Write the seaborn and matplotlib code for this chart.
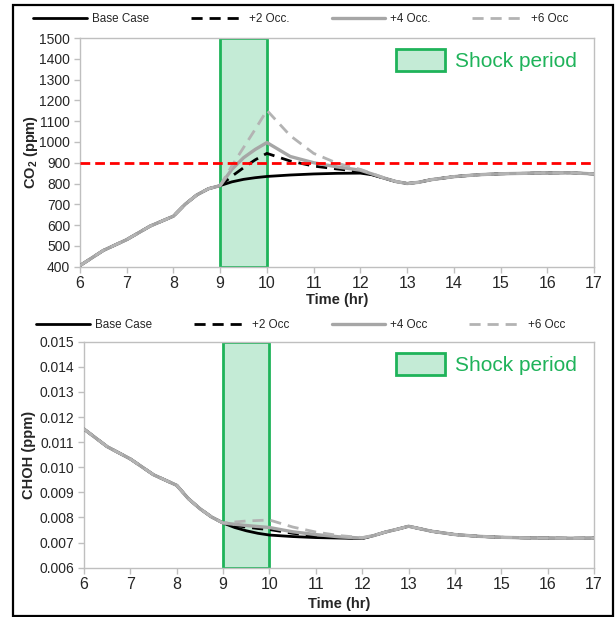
import numpy as np
import pandas as pd
import seaborn as sns
import matplotlib
matplotlib.use("Agg")
import matplotlib.pyplot as plt
from matplotlib.lines import Line2D
from matplotlib.patches import Patch, Rectangle

# ---------------- data ----------------
time_hr = [6, 6.5, 7, 7.5, 8, 8.25, 8.5, 8.75, 9, 9.25, 9.5, 9.75, 10, 10.5, 11, 11.5,
           12, 12.25, 12.5, 12.75, 13, 13.25, 13.5, 14, 14.5, 15, 15.5, 16, 16.5, 17]

co2_base = [405, 478, 530, 595, 643, 700, 745, 775, 790, 808, 820, 828, 834, 841, 846, 849,
            850, 842, 826, 810, 800, 806, 818, 833, 842, 847, 849, 851, 852, 846]
co2_occ2 = [405, 478, 530, 595, 643, 700, 745, 775, 790, 835, 876, 914, 945, 908, 884, 870,
            858, 843, 826, 810, 800, 806, 818, 833, 842, 847, 849, 851, 852, 846]
co2_occ4 = [405, 478, 530, 595, 643, 700, 745, 775, 790, 868, 924, 964, 997, 930, 900, 880,
            864, 846, 827, 810, 800, 806, 818, 833, 842, 847, 849, 851, 852, 846]
co2_occ6 = [405, 478, 530, 595, 643, 700, 745, 775, 790, 885, 973, 1061, 1152, 1030, 945, 898,
            868, 848, 828, 811, 800, 806, 818, 833, 842, 847, 849, 851, 852, 846]

choh_base = [0.01152, 0.01082, 0.01033, 0.00970, 0.00928, 0.00875, 0.00835, 0.00802, 0.00778,
             0.00760, 0.00747, 0.00737, 0.00730, 0.00724, 0.00720, 0.00718, 0.00716, 0.00728,
             0.00742, 0.00753, 0.00765, 0.00755, 0.00745, 0.00732, 0.00725, 0.00721, 0.00719,
             0.00718, 0.00717, 0.00718]
choh_occ2 = [0.01152, 0.01082, 0.01033, 0.00970, 0.00928, 0.00875, 0.00835, 0.00802, 0.00778,
             0.00768, 0.00762, 0.00756, 0.00752, 0.00737, 0.00728, 0.00721, 0.00717, 0.00728,
             0.00742, 0.00753, 0.00765, 0.00755, 0.00745, 0.00732, 0.00725, 0.00721, 0.00719,
             0.00718, 0.00717, 0.00718]
choh_occ4 = [0.01152, 0.01082, 0.01033, 0.00970, 0.00928, 0.00875, 0.00835, 0.00802, 0.00778,
             0.00773, 0.00768, 0.00764, 0.00760, 0.00743, 0.00732, 0.00723, 0.00718, 0.00728,
             0.00742, 0.00753, 0.00765, 0.00755, 0.00745, 0.00732, 0.00725, 0.00721, 0.00719,
             0.00718, 0.00717, 0.00718]
choh_occ6 = [0.01152, 0.01082, 0.01033, 0.00970, 0.00928, 0.00875, 0.00835, 0.00802, 0.00778,
             0.00782, 0.00786, 0.00788, 0.00790, 0.00762, 0.00742, 0.00728, 0.00720, 0.00729,
             0.00742, 0.00753, 0.00765, 0.00755, 0.00745, 0.00732, 0.00725, 0.00721, 0.00719,
             0.00718, 0.00717, 0.00718]

co2_labels = ["Base Case", "+2 Occ.", "+4 Occ.", "+6 Occ"]
choh_labels = ["Base Case", "+2 Occ", "+4 Occ", "+6 Occ"]
co2_limit = 900
shock_start, shock_end = 9, 10

co2_ticks = list(range(400, 1501, 100))
choh_ticks = [0.006, 0.007, 0.008, 0.009, 0.010, 0.011, 0.012, 0.013, 0.014, 0.015]
x_ticks = list(range(6, 18))

# ---------------- style ----------------
sns.set_style("white")
plt.rcParams["font.family"] = ["Liberation Sans", "DejaVu Sans"]
plt.rcParams["mathtext.fontset"] = "custom"
plt.rcParams["mathtext.rm"] = "Liberation Sans"
plt.rcParams["mathtext.bf"] = "Liberation Sans:bold"

styles = [
    dict(color="black", lw=2.0, ls="-"),
    dict(color="black", lw=2.0, ls=(0, (4, 2.5))),
    dict(color="#a6a6a6", lw=2.4, ls="-"),
    dict(color="#b3b3b3", lw=2.0, ls=(0, (4, 2.5))),
]
GREEN = "#1fb35a"
FILL = "#c4ebd6"
SPINE = "#bfbfbf"

fig = plt.figure(figsize=(6.15, 6.17), dpi=100)
ax1 = fig.add_axes([0.130, 0.5678, 0.836, 0.3706])
ax2 = fig.add_axes([0.1366, 0.0799, 0.8294, 0.3663])

def draw(ax, series, labels, yticks, ylabel, fmt, leg_y, xlabelpad):
    ax.axvspan(shock_start, shock_end, facecolor=FILL, edgecolor=GREEN, lw=2, zorder=1)
    for vals, st in zip(series, styles):
        sns.lineplot(x=time_hr, y=vals, ax=ax, color=st["color"], linewidth=st["lw"],
                     linestyle=st["ls"], zorder=3)
    ax.set_xlim(6, 17)
    ax.set_ylim(yticks[0], yticks[-1])
    ax.set_xticks(x_ticks)
    ax.set_yticks(yticks)
    ax.set_yticklabels([fmt(v) for v in yticks], fontsize=10)
    ax.set_xticklabels([str(v) for v in x_ticks], fontsize=11.5)
    for s in ax.spines.values():
        s.set_visible(True)
        s.set_color(SPINE)
        s.set_linewidth(1.0)
    ax.tick_params(axis="both", which="both", direction="out", length=4, width=1,
                   color=SPINE, left=True, bottom=True, pad=3)
    ax.set_xlabel("Time (hr)", fontsize=10.5, fontweight="bold", labelpad=xlabelpad)
    ax.set_ylabel(ylabel, fontsize=10.5, fontweight="bold", labelpad=4)
    handles = [Line2D([0], [0], color=st["color"], lw=st["lw"], ls=st["ls"]) for st in styles]
    fig.legend(handles, labels, loc="center", bbox_to_anchor=(0.489, leg_y), ncol=4,
               frameon=False, fontsize=8.4, handlelength=4.6, handletextpad=0.4,
               columnspacing=3.6)
    shock = [Patch(facecolor=FILL, edgecolor=GREEN, lw=2)]
    ax.legend(shock, ["Shock period"], loc="upper right", frameon=False, fontsize=15,
              labelcolor=GREEN, handlelength=2.35, handleheight=1.25, handletextpad=0.5,
              borderaxespad=0.3, bbox_to_anchor=(0.995, 1.015))

draw(ax1, [co2_base, co2_occ2, co2_occ4, co2_occ6], co2_labels, co2_ticks,
     r"$\mathbf{CO_2}$ (ppm)", lambda v: f"{v:d}", 1 - 19 / 617, 1)
ax1.axhline(co2_limit, color="#ff0000", lw=2, ls=(0, (3.5, 1.8)), zorder=4)

draw(ax2, [choh_base, choh_occ2, choh_occ4, choh_occ6], choh_labels, choh_ticks,
     "CHOH (ppm)", lambda v: f"{v:.3f}", 1 - 325 / 617, 3)

ax1.yaxis.set_label_coords(-0.078, 0.5)
ax2.yaxis.set_label_coords(-0.095, 0.5)

# outer frame
fig.patches.append(Rectangle((13 / 615, 1 - 616 / 617), 600 / 615, 611 / 617,
                             transform=fig.transFigure, fill=False, edgecolor="black",
                             lw=1.6, zorder=10))

fig.savefig("out.png", dpi=100)
